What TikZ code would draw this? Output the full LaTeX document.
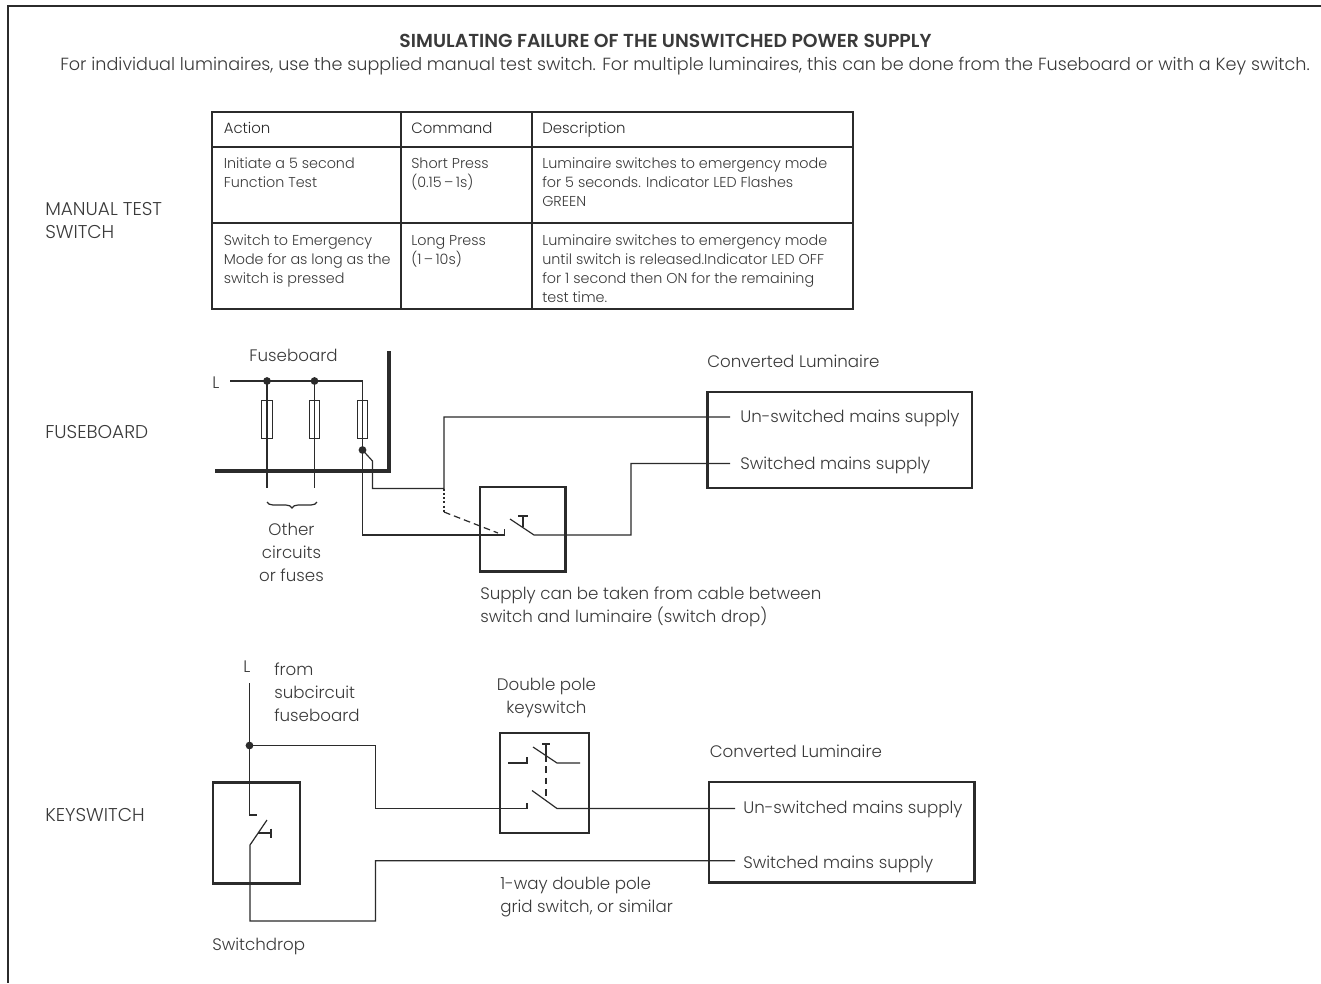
\documentclass[tikz,border=0pt]{standalone}
\usepackage{fontspec}
\setmainfont{Poppins}[UprightFont=* Light,BoldFont=* SemiBold]
\usetikzlibrary{decorations.pathreplacing}
\definecolor{ink}{HTML}{2B2B2B}
\definecolor{txt}{HTML}{3A3A3A}
\tikzset{
  x=0.75pt,y=-0.75pt,
  wire/.style={draw=ink,line width=0.9pt,line join=miter},
  thickbox/.style={draw=ink,line width=2.1pt,rectangle,inner sep=0pt,outer sep=0pt,anchor=north west},
  heavy/.style={draw=ink,line width=2.4pt},
  cell/.style={draw=ink,line width=1.3pt,rectangle,inner sep=0pt,outer sep=0pt,anchor=north west},
  fuse/.style={draw=ink,line width=0.7pt,rectangle,inner sep=0pt,outer sep=0pt,minimum width=8pt,minimum height=28.5pt},
  dotn/.style={circle,fill=ink,inner sep=0pt,minimum size=5.8pt},
  lbl/.style={font=\fontsize{12.5}{17}\selectfont,text=txt,inner sep=0pt,anchor=base west,align=left},
  lblc/.style={lbl,anchor=base,align=center},
  caps/.style={lbl,font=\fontsize{13.9}{17.25}\selectfont},
  tbl/.style={font=\fontsize{10.75}{14.2}\selectfont,text=txt,inner sep=0pt,anchor=base west,align=left},
  thd/.style={tbl,font=\fontsize{11.2}{14.2}\selectfont,text=ink},
}
\begin{document}
\begin{tikzpicture}
\useasboundingbox (0,0) rectangle (1321,983);
\fill[white] (0,0) rectangle (1321,983);
\coordinate (f1) at (1321,6); \coordinate (f2) at (8,6); \coordinate (f3) at (8,983);
\draw[ink,line width=1.2pt] (f1) -- (f2) -- (f3);

\node[lblc,font=\fontsize{14.1}{16}\selectfont\bfseries] (title) at (665.5,47) {SIMULATING FAILURE OF THE UNSWITCHED POWER SUPPLY};
\node[lbl,font=\fontsize{13.2}{16}\selectfont] (sub) at (60,70) {For individual luminaires, use the supplied manual test switch. For multiple luminaires, this can be done from the Fuseboard or with a Key switch.};

% table
\node[caps] (l1) at (45,238.5) {MANUAL TEST\\SWITCH};
\node[cell,minimum width=141.75pt,minimum height=26.25pt] (c11) at (212,112) {};
\node[cell,minimum width=98.25pt,minimum height=26.25pt] (c12) at (401,112) {};
\node[cell,minimum width=240.75pt,minimum height=26.25pt] (c13) at (532,112) {};
\node[cell,minimum width=141.75pt,minimum height=57pt] (c21) at (212,147) {};
\node[cell,minimum width=98.25pt,minimum height=57pt] (c22) at (401,147) {};
\node[cell,minimum width=240.75pt,minimum height=57pt] (c23) at (532,147) {};
\node[cell,minimum width=141.75pt,minimum height=64.5pt] (c31) at (212,223) {};
\node[cell,minimum width=98.25pt,minimum height=64.5pt] (c32) at (401,223) {};
\node[cell,minimum width=240.75pt,minimum height=64.5pt] (c33) at (532,223) {};
\node[thd] (t11) at (223.5,133) {Action};
\node[thd] (t12) at (411,133) {Command};
\node[thd] (t13) at (542,133) {Description};
\node[tbl] (t21) at (223.5,187) {Initiate a 5 second\\Function Test};
\node[tbl] (t22) at (411,187) {Short Press\\(0.15\,–\,1s)};
\node[tbl] (t23) at (542,206) {Luminaire switches to emergency mode\\for 5 seconds. Indicator LED Flashes\\GREEN};
\node[tbl] (t31) at (223.5,283) {Switch to Emergency\\Mode for as long as the\\switch is pressed};
\node[tbl] (t32) at (411,264) {Long Press\\(1\,–\,10s)};
\node[tbl] (t33) at (542,302) {Luminaire switches to emergency mode\\until switch is released.Indicator LED OFF\\for 1 second then ON for the remaining\\test time.};

% fuseboard
\node[caps] (l2) at (45,438) {FUSEBOARD};
\node[lblc] (fb) at (293.5,361) {Fuseboard};
\node[lbl] (Lf) at (212,388) {L};
\coordinate (La) at (230,381);
\node[dotn] (d1) at (267,381) {};
\node[dotn] (d2) at (314.5,381) {};
\coordinate (c3) at (362.5,381);
\coordinate (e1) at (267,488); \coordinate (e2) at (314.5,488);
\node[dotn] (d3) at (362.5,450) {};
\coordinate (b1) at (215,471); \coordinate (b2) at (389,471); \coordinate (b3) at (389,351);
\draw[heavy] (b1) -- (b2) -- (b3);
\coordinate (k1) at (362.5,535); \coordinate (k2) at (504.5,535); \coordinate (k3) at (504.5,529);
\draw[wire] (La) -- (d1.center) -- (d2.center) -- (c3) -- (k1) -- (k2) -- (k3);
\draw[wire] (d1.center) -- (e1);
\draw[wire] (d2.center) -- (e2);
\node[fuse] (fu1) at (267,419.5) {};
\node[fuse] (fu2) at (314.5,419.5) {};
\node[fuse] (fu3) at (362.5,419.5) {};
\coordinate (g1) at (372.5,461); \coordinate (g2) at (372.5,488.5); \coordinate (g3) at (444,488.5);
\coordinate (g4) at (444,417);
\node[thickbox,minimum width=198.2pt,minimum height=72pt] (lum1) at (707.7,392) {};
\coordinate (w1) at (730,417); \coordinate (w2) at (730,463.5);
\draw[wire] (d3.center) -- (g1) -- (g2) -- (g3) -- (g4) -- (w1);
\coordinate (g5) at (444,512); \coordinate (g6) at (498,533);
\draw[wire,dash pattern=on 1.6pt off 1.6pt] (g3) -- (g5);
\draw[wire,dash pattern=on 5pt off 3pt] (g5) -- (g6);
\node[thickbox,minimum width=64pt,minimum height=63.5pt] (sw1) at (480,487) {};
\coordinate (s1) at (510,519); \coordinate (s2) at (534,535); \coordinate (s3) at (631,535); \coordinate (s4) at (631,463.5);
\draw[wire] (s1) -- (s2) -- (s3) -- (s4) -- (w2);
\coordinate (t1) at (523,527); \coordinate (t2) at (523,516); \coordinate (t3) at (518,516); \coordinate (t4) at (528,516);
\draw[wire] (t1) -- (t2) (t3) -- (t4);
\coordinate (br1) at (267,502); \coordinate (br2) at (317,502);
\draw[wire,decorate,decoration={brace,mirror,amplitude=4.5pt}] (br1) -- (br2);
\node[lblc] (oth) at (291.5,581) {Other\\circuits\\or fuses};
\node[lbl] (cl1) at (707,367) {Converted Luminaire};
\node[lbl] (u1) at (740,422) {Un-switched mains supply};
\node[lbl] (sw1t) at (740,469) {Switched mains supply};
\node[lbl] (sup) at (480,622) {Supply can be taken from cable between\\switch and luminaire (switch drop)};

% keyswitch
\node[caps] (l3) at (45,821) {KEYSWITCH};
\node[lbl] (Lk) at (243,672) {L};
\node[lbl] (from) at (274,721) {from\\subcircuit\\fuseboard};
\node[lblc] (dp) at (546.5,713) {Double pole\\keyswitch};
\node[lbl] (cl2) at (709.5,757) {Converted Luminaire};
\node[thickbox,minimum width=199pt,minimum height=75.5pt] (lum2) at (709,782) {};
\node[thickbox,minimum width=66.75pt,minimum height=75pt] (ks) at (500,733) {};
\node[thickbox,minimum width=65.25pt,minimum height=76pt] (sd) at (213,782.5) {};
\coordinate (a0) at (249.5,683); \node[dotn] (d4) at (249.5,745.5) {};
\coordinate (a1) at (249.5,815); \coordinate (a2) at (257,815);
\draw[wire] (a0) -- (d4.center) -- (a1) -- (a2);
\coordinate (m1) at (375.5,745.5); \coordinate (m2) at (375.5,808.5); \coordinate (m3) at (527,808.5); \coordinate (m4) at (527,803);
\draw[wire] (d4.center) -- (m1) -- (m2) -- (m3) -- (m4);
\coordinate (n1) at (532,790.5); \coordinate (n2) at (557,808.5); \coordinate (n3) at (735,808.5);
\draw[wire] (n1) -- (n2) -- (n3);
\coordinate (o1) at (508,763); \coordinate (o2) at (527,763); \coordinate (o3) at (527,757);
\draw[wire] (o1) -- (o2) -- (o3);
\coordinate (p1) at (533,747); \coordinate (p2) at (557,763); \coordinate (p3) at (580,763);
\draw[wire] (p1) -- (p2) -- (p3);
\coordinate (q1) at (546,744); \coordinate (q2) at (546,755); \coordinate (q3) at (542,744); \coordinate (q4) at (550,744); \coordinate (q5) at (546,800);
\draw[wire] (q1) -- (q2) (q3) -- (q4);
\draw[wire,dash pattern=on 5pt off 3.5pt] (q2) -- (q5);
\coordinate (r1) at (267,820); \coordinate (r2) at (250,845); \coordinate (r3) at (250,921); \coordinate (r4) at (375.5,921); \coordinate (r5) at (375.5,860.7); \coordinate (r6) at (735,860.7);
\draw[wire] (r1) -- (r2) -- (r3) -- (r4) -- (r5) -- (r6);
\coordinate (v1) at (258,833); \coordinate (v2) at (271,833); \coordinate (v3) at (271,828.5); \coordinate (v4) at (271,838);
\draw[wire] (v1) -- (v2) (v3) -- (v4);
\node[lbl] (u2) at (743,813) {Un-switched mains supply};
\node[lbl] (sw2t) at (743,868) {Switched mains supply};
\node[lbl] (grid) at (500,912) {1-way double pole\\grid switch, or similar};
\node[lbl] (drop) at (212,950) {Switchdrop};
\end{tikzpicture}
\end{document}
